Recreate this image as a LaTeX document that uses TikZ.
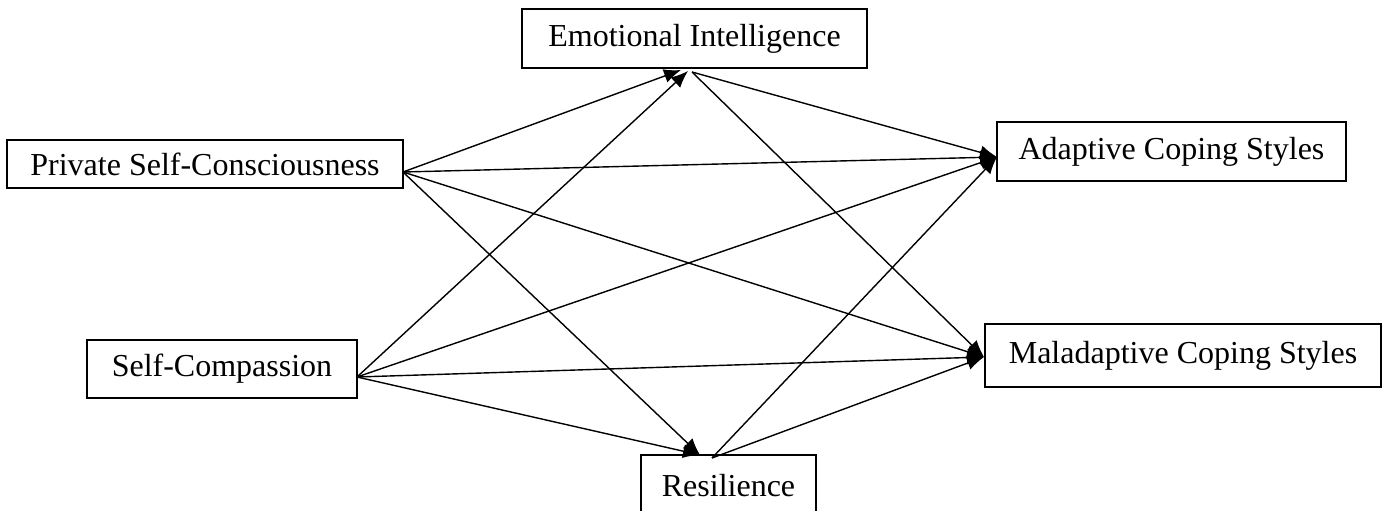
\documentclass[tikz,border=0pt]{standalone}
\usepackage{fontspec}
\setmainfont{Liberation Serif}
\usetikzlibrary{arrows.meta}
\begin{document}
\begin{tikzpicture}[x=1pt,y=-1pt,
  box/.style={draw, line width=1.6pt, inner sep=0pt, font=\fontsize{32}{36}\selectfont},
  link/.style={line width=1.4pt, -{Latex[length=17pt,width=14pt]}}]
\useasboundingbox (0,0) rectangle (1382,511);
\begin{scope}
\clip (0,0) rectangle (1382,511);
\node[box, minimum width=345pt, minimum height=59pt] (ei) at (694.5,38.5) {Emotional Intelligence};
\node[box, minimum width=396pt, minimum height=48pt] (psc) at (205,164) {Private Self-Consciousness};
\node[box, minimum width=349pt, minimum height=59pt] (acs) at (1171.5,151.5) {Adaptive Coping Styles};
\node[box, minimum width=270pt, minimum height=58pt] (sc) at (222,369) {Self-Compassion};
\node[box, minimum width=396pt, minimum height=63pt] (mcs) at (1183,355.5) {Maladaptive Coping Styles};
\node[box, minimum width=175pt, minimum height=62pt] (res) at (728.5,486) {Resilience};
\end{scope}
\coordinate (psco) at (403,172);
\coordinate (sco) at (357,377);
\coordinate (eiA) at (681,70);
\coordinate (eiB) at (688,71);
\coordinate (eio) at (692,72);
\coordinate (acsi) at (997,157);
\coordinate (mcsi) at (984,357);
\coordinate (resi) at (700,455);
\coordinate (reso) at (712,458);
\draw[link] (psco) -- (eiA);
\draw[link] (psco) -- (acsi);
\draw[link] (psco) -- (mcsi);
\draw[link] (psco) -- (resi);
\draw[link] (sco) -- (eiB);
\draw[link] (sco) -- (acsi);
\draw[link] (sco) -- (mcsi);
\draw[link] (sco) -- (resi);
\draw[link] (eio) -- (acsi);
\draw[link] (eio) -- (mcsi);
\draw[link] (reso) -- (acsi);
\draw[link] (reso) -- (mcsi);
\end{tikzpicture}
\end{document}
